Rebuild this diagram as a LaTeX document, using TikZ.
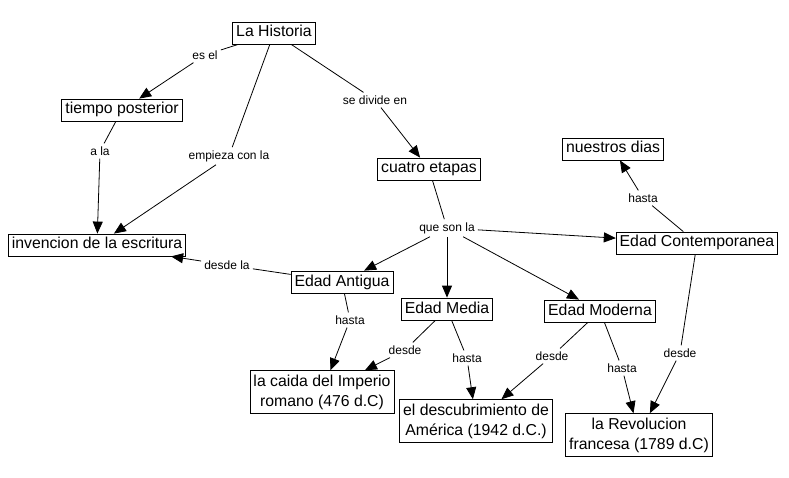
\documentclass[tikz,border=0pt]{standalone}
\usepackage{fontspec}
\setmainfont{Liberation Sans}
\usetikzlibrary{arrows.meta}
\begin{document}
\begin{tikzpicture}[x=1pt,y=-1pt,
 cbase/.style={draw, line width=0.8pt, font=\fontsize{15.8}{20}\selectfont, inner xsep=3.5pt, inner ysep=3.5pt, align=center},
 concept/.style={cbase, text height=11.5pt, text depth=3.5pt},
 concepttwo/.style={cbase, inner ysep=4pt},
 lbl/.style={font=\fontsize{12}{13}\selectfont, inner sep=3pt},
 con/.style={line width=0.8pt},
 arr/.style={line width=0.8pt, -{Triangle[length=12pt,width=10pt]}}]
\useasboundingbox[fill=white] (0,0) rectangle (789,478);
% concepts
\node[concept] (lh) at (274,33) {La Historia};
\node[concept] (tp) at (122,110) {tiempo posterior};
\node[concept] (inv) at (97,245) {invencion de la escritura};
\node[concept] (ce) at (429,169) {cuatro etapas};
\node[concept] (nd) at (613,149) {nuestros dias};
\node[concept] (ec) at (697,243) {Edad Contemporanea};
\node[concept] (ea) at (342,282) {Edad Antigua};
\node[concept] (em) at (447,309) {Edad Media};
\node[concept] (emo) at (600,311) {Edad Moderna};
\node[concepttwo] (cai) at (322,392) {la caida del Imperio\\romano (476 d.C)};
\node[concepttwo] (des) at (476,421) {el descubrimiento de\\América (1942 d.C.)};
\node[concepttwo] (rev) at (639,435) {la Revolucion\\francesa (1789 d.C)};
% labels
\node[lbl] (l1) at (205,55) {es el};
\node[lbl] (l2) at (100,151) {a la};
\node[lbl] (l3) at (229,156) {empieza con la};
\node[lbl] (l4) at (375,100) {se divide en};
\node[lbl] (l5) at (447,228) {que son la};
\node[lbl] (l6) at (227,265) {desde la};
\node[lbl] (l7) at (350,320) {hasta};
\node[lbl] (l8) at (405,350) {desde};
\node[lbl] (l9) at (467,358) {hasta};
\node[lbl] (l10) at (552,356) {desde};
\node[lbl] (l11) at (622,368) {hasta};
\node[lbl] (l12) at (680,353) {desde};
\node[lbl] (l13) at (643,198) {hasta};
% connectors
\draw[con] (lh) -- (l1); \draw[arr] (l1) -- (tp);
\draw[con] (tp) -- (l2); \draw[arr] (l2) -- (inv);
\draw[con] (lh) -- (l3); \draw[arr] (l3) -- (inv);
\draw[con] (lh) -- (l4); \draw[arr] (l4) -- (ce);
\draw[con] (ce) -- (l5);
\draw[arr] (l5) -- (ea);
\draw[arr] (l5) -- (em);
\draw[arr] (l5) -- (emo);
\draw[arr] (l5) -- (ec);
\draw[con] (ea) -- (l6); \draw[arr] (l6) -- (inv);
\draw[con] (ea) -- (l7); \draw[arr] (l7) -- (cai);
\draw[con] (em) -- (l8); \draw[arr] (l8) -- (cai);
\draw[con] (em) -- (l9); \draw[arr] (l9) -- (des);
\draw[con] (emo) -- (l10); \draw[arr] (l10) -- (des);
\draw[con] (emo) -- (l11); \draw[arr] (l11) -- (rev);
\draw[con] (ec) -- (l12); \draw[arr] (l12) -- (rev);
\draw[con] (ec) -- (l13); \draw[arr] (l13) -- (nd);
\end{tikzpicture}
\end{document}
